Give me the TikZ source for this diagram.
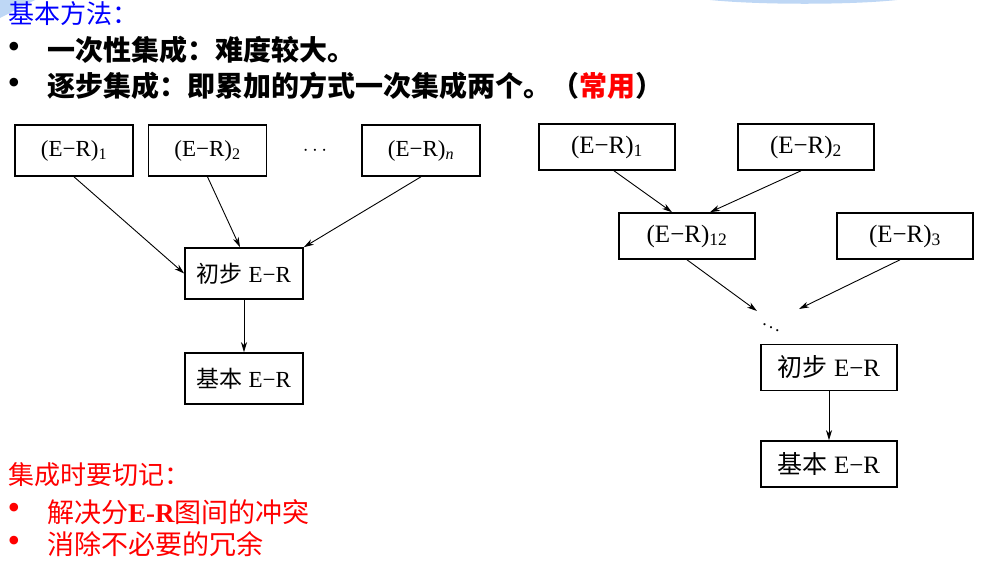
\documentclass[tikz,border=0pt]{standalone}
\usepackage{fontspec}
\usepackage{xcolor}
\setmainfont{Liberation Serif}
\newfontfamily\cjk{Noto Sans CJK SC}
\usetikzlibrary{arrows.meta, positioning, calc}
\definecolor{deco}{RGB}{190,215,245}
\newcommand{\er}[1]{(E−R)\textsubscript{#1}}
\tikzset{
  erbox/.style={draw, line width=1.6pt, inner sep=0pt, minimum width=118pt, minimum height=51pt, font=\fontsize{23}{26}\selectfont},
  erboxr/.style={erbox, minimum width=136pt, minimum height=46pt, font=\fontsize{25}{28}\selectfont},
  arr/.style={-{Stealth[length=10pt, width=6pt, inset=3pt]}, line width=0.9pt},
  txt/.style={anchor=west, inner sep=0pt, font=\cjk\bfseries\fontsize{28}{32}\selectfont},
  dotmark/.style={inner sep=0pt, font=\fontsize{36}{40}\selectfont}
}

\begin{document}
\begin{tikzpicture}[x=1pt, y=-1pt]
    \useasboundingbox (0,0) rectangle (983,566);
    % 装饰
    \fill[deco] (0,0) -- (35,0) -- (0,18) -- cycle;
    \fill[deco] (710,0) .. controls (760,5) and (850,5) .. (897,0) -- cycle;

    % 基本方法
    \node[txt, blue, font=\cjk\fontsize{26}{30}\selectfont] (title1) at (8,14) {基本方法：};
    \node[dotmark] (b1dot) at (14,50) {•};
    \node[txt] (line1) at (47,50) {一次性集成：难度较大。};
    \node[dotmark] (b2dot) at (14,86) {•};
    \node[txt] (line2) at (47,86) {逐步集成：即累加的方式一次集成两个。（\textcolor{red}{常用}）};

    % 一次性集成
    \node[erbox] (a1) at (74,150.5) {\er{1}};
    \node[erbox] (a2) at (207.5,150.5) {\er{2}};
    \node[inner sep=0pt, font=\fontsize{22}{24}\selectfont] (adots) at (315,150.5) {$\cdots$};
    \node[erbox] (an) at (421,150.5) {\er{\textit{n}}};
    \node[erbox] (c1) at (244,273.5) {{\cjk 初步} E−R};
    \node[erbox] (c2) at (244,378.5) {{\cjk 基本} E−R};
    \draw[arr] (a1.south) -- (c1.west);
    \draw[arr] (a2.south) -- ([xshift=-4pt]c1.north);
    \draw[arr] (an.south) -- (c1.north east);
    \draw[arr] (c1) -- (c2);

    % 逐步集成
    \node[erboxr] (r1) at (607,147) {\er{1}};
    \node[erboxr] (r2) at (806,147) {\er{2}};
    \node[erboxr] (r12) at (687,236) {\er{12}};
    \node[erboxr] (r3) at (905,236) {\er{3}};
    \node[inner sep=0pt, font=\fontsize{18}{20}\selectfont] (rdots) at (771,325) {$\ddots$};
    \coordinate (m1) at (757,311);
    \coordinate (m2) at (799,309);
    \node[erboxr] (e1) at (829,367.5) {{\cjk 初步} E−R};
    \node[erboxr] (e2) at (829,464) {{\cjk 基本} E−R};
    \draw[arr] ([xshift=7pt]r1.south) -- ([xshift=-15pt]r12.north);
    \draw[arr] ([xshift=-5pt]r2.south) -- ([xshift=23pt]r12.north);
    \draw[arr] (r12.south) -- (m1);
    \draw[arr] ([xshift=-5pt]r3.south) -- (m2);
    \draw[arr] (e1) -- (e2);

    % 集成时要切记
    \node[txt, red, font=\cjk\fontsize{26}{30}\selectfont] (title2) at (8,475) {集成时要切记：};
    \node[dotmark, red] (b3dot) at (14,511) {•};
    \node[txt, red, font=\cjk\fontsize{27}{30}\selectfont] (line3) at (47,512) {解决分{\rmfamily\bfseries E-R}图间的冲突};
    \node[dotmark, red] (b4dot) at (14,544) {•};
    \node[txt, red, font=\cjk\fontsize{27}{30}\selectfont] (line4) at (47,544) {消除不必要的冗余};
\end{tikzpicture}
\end{document}
